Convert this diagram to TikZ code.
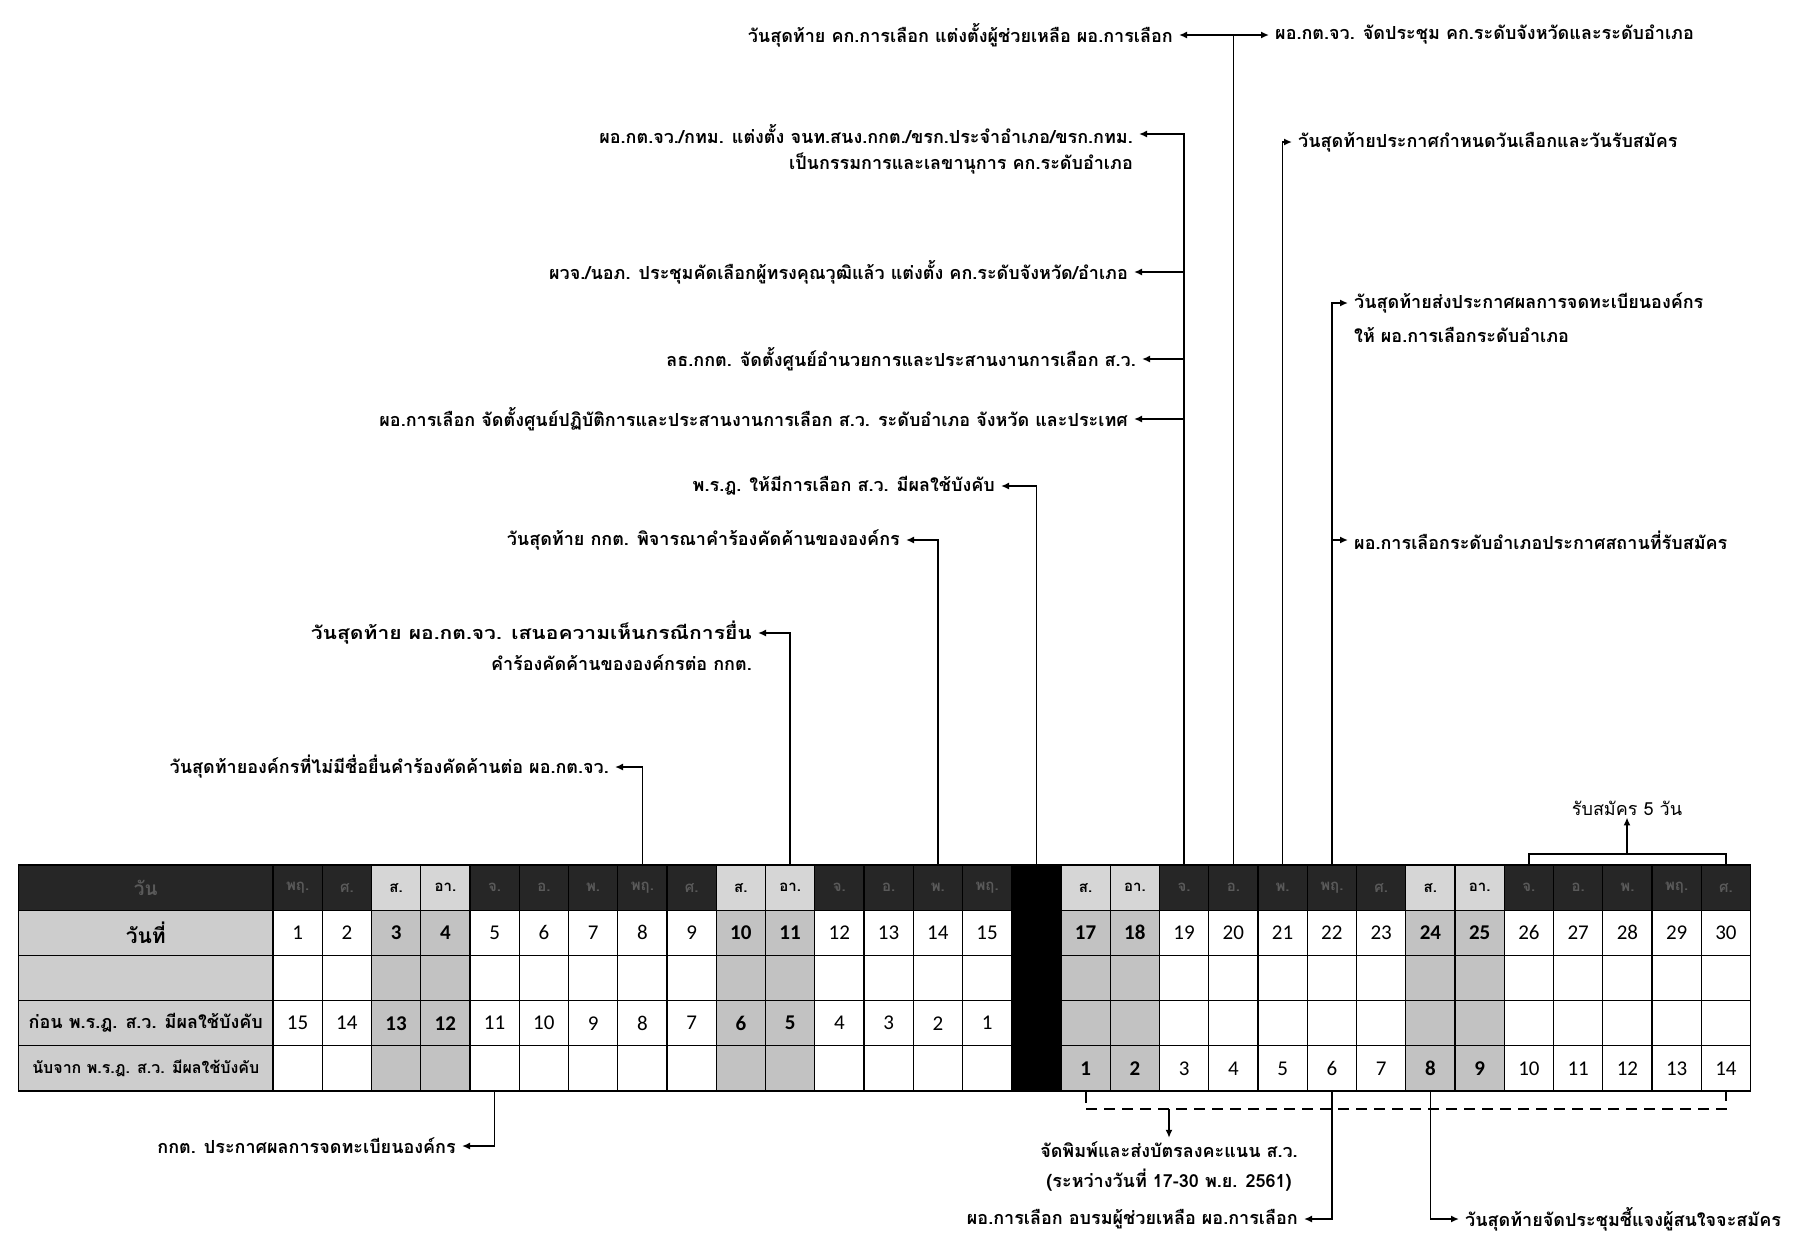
\documentclass[tikz,border=0pt]{standalone}
\usepackage{fontspec}
\setmainfont{Carlito}
\newfontfamily\thai[Script=Thai]{Loma}
\usetikzlibrary{arrows.meta}
\definecolor{hdr}{HTML}{262626}
\definecolor{hdrtxt}{HTML}{5A5A5A}
\definecolor{wkh}{HTML}{D6D6D6}
\definecolor{wkb}{HTML}{C2C2C2}
\definecolor{fc}{HTML}{CDCDCD}
\newcommand\thday[1]{\ifcase#1 พฤ.\or ศ.\or ส.\or อา.\or จ.\or อ.\or พ.\fi}
\begin{document}
\begin{tikzpicture}[x=1pt,y=-1pt,
  cell/.style={draw=black, line width=1.3pt, minimum width=49.25pt, minimum height=45.2pt, inner sep=0pt},
  fcell/.style={cell, minimum width=254.5pt, fill=fc},
  lbl/.style={font=\thai\bfseries\fontsize{18}{21}\selectfont, inner ysep=0pt, inner xsep=6pt},
  lblL/.style={lbl, anchor=east},
  lblR/.style={lbl, anchor=west},
  lblC/.style={lbl, anchor=center},
  arr/.style={-{Latex[length=8pt,width=7pt]}, line width=1.6pt},
  ln/.style={line width=1.6pt},
  num/.style={font=\fontsize{21}{24}\selectfont},
  dayf/.style={font=\thai\bfseries\fontsize{15}{17}\selectfont},
  dsh/.style={line width=1.8pt, dash pattern=on 11pt off 7pt}
]
\fill[white] (0,0) rectangle (1809,1245);
\useasboundingbox (0,0) rectangle (1809,1245);

% first column
\node[cell, minimum width=254.5pt, fill=hdr, text=hdrtxt, font=\thai\bfseries\fontsize{19}{22}\selectfont] (h0) at (145.75,887.6) {วัน};
\node[fcell, font=\thai\bfseries\fontsize{21}{24}\selectfont] (d0) at (145.75,932.8) {วันที่};
\node[fcell] (e0) at (145.75,978) {};
\node[fcell, font=\thai\bfseries\fontsize{18}{20}\selectfont] (p0) at (145.75,1023.2) {ก่อน พ.ร.ฎ. ส.ว. มีผลใช้บังคับ};
\node[fcell, font=\thai\bfseries\fontsize{16}{18}\selectfont] (n0) at (145.75,1068.4) {นับจาก พ.ร.ฎ. ส.ว. มีผลใช้บังคับ};

\foreach \i in {1,...,30}{
  \pgfmathtruncatemacro\k{mod(\i-1,7)}
  \pgfmathsetmacro\cx{273+(\i-0.5)*49.25}
  \pgfmathtruncatemacro\pv{16-\i}
  \pgfmathtruncatemacro\nv{\i-16}
  \def\hfc{hdr}\def\bfc{white}\def\tc{hdrtxt}\def\nw{}
  \ifnum\k=2 \def\hfc{wkh}\def\bfc{wkb}\def\tc{black}\def\nw{\bfseries}\fi
  \ifnum\k=3 \def\hfc{wkh}\def\bfc{wkb}\def\tc{black}\def\nw{\bfseries}\fi
  \ifnum\i=16 \def\hfc{black}\def\bfc{black}\fi
  \node[cell, fill=\hfc, text=\tc, dayf] (h\i) at (\cx,887.6) {\ifnum\i=16 \else\thday{\k}\fi};
  \node[cell, fill=\bfc, num] (d\i) at (\cx,932.8) {\nw\ifnum\i=16 \else\i\fi};
  \node[cell, fill=\bfc] (e\i) at (\cx,978) {};
  \node[cell, fill=\bfc, num] (p\i) at (\cx,1023.2) {\nw\ifnum\i<16 \pv\fi};
  \node[cell, fill=\bfc, num] (n\i) at (\cx,1068.4) {\nw\ifnum\i>16 \nv\fi};
}

% labels above
\node[lblL] (L1) at (1179,35) {วันสุดท้าย คก.การเลือก แต่งตั้งผู้ช่วยเหลือ ผอ.การเลือก};
\node[lblR] (L2) at (1269,35) {ผอ.กต.จว. จัดประชุม คก.ระดับจังหวัดและระดับอำเภอ};
\node[lblL] (L3a) at (1139,134) {ผอ.กต.จว./กทม. แต่งตั้ง จนท.สนง.กกต./ขรก.ประจำอำเภอ/ขรก.กทม.};
\node[lblL] (L3b) at (1139,164) {เป็นกรรมการและเลขานุการ คก.ระดับอำเภอ};
\node[lblR] (L4) at (1292,142) {วันสุดท้ายประกาศกำหนดวันเลือกและวันรับสมัคร};
\node[lblL] (L5) at (1134,272) {ผวจ./นอภ. ประชุมคัดเลือกผู้ทรงคุณวุฒิแล้ว แต่งตั้ง คก.ระดับจังหวัด/อำเภอ};
\node[lblR] (L6a) at (1348,303) {วันสุดท้ายส่งประกาศผลการจดทะเบียนองค์กร};
\node[lblR] (L6b) at (1348,335) {ให้ ผอ.การเลือกระดับอำเภอ};
\node[lblL] (L7) at (1142,359) {ลธ.กกต. จัดตั้งศูนย์อำนวยการและประสานงานการเลือก ส.ว.};
\node[lblL] (L8) at (1134,419) {ผอ.การเลือก จัดตั้งศูนย์ปฏิบัติการและประสานงานการเลือก ส.ว. ระดับอำเภอ จังหวัด และประเทศ};
\node[lblL] (L9) at (1001,486) {พ.ร.ฎ. ให้มีการเลือก ส.ว. มีผลใช้บังคับ};
\node[lblL] (L10) at (906,540) {วันสุดท้าย กกต. พิจารณาคำร้องคัดค้านขององค์กร};
\node[lblR] (L6c) at (1348,540) {ผอ.การเลือกระดับอำเภอประกาศสถานที่รับสมัคร};
\node[lblL] (L11a) at (758,633) {\scalebox{1.17}[1]{วันสุดท้าย ผอ.กต.จว. เสนอความเห็นกรณีการยื่น}};
\node[lblL] (L11b) at (758,663) {คำร้องคัดค้านขององค์กรต่อ กกต.};
\node[lblL] (L12) at (615,767) {วันสุดท้ายองค์กรที่ไม่มีชื่อยื่นคำร้องคัดค้านต่อ ผอ.กต.จว.};
\node[font=\thai\fontsize{18}{20}\selectfont, inner sep=2pt] (R5) at (1627,808) {รับสมัคร 5 วัน};

% labels below
\node[lblL] (B1) at (462,1146) {กกต. ประกาศผลการจดทะเบียนองค์กร};
\node[lblC] (B2a) at (1169,1150) {จัดพิมพ์และส่งบัตรลงคะแนน ส.ว.};
\node[lblC] (B2b) at (1169,1180) {(ระหว่างวันที่ 17-30 พ.ย. 2561)};
\node[lblL] (B3) at (1304,1219) {ผอ.การเลือก อบรมผู้ช่วยเหลือ ผอ.การเลือก};
\node[lblR] (B4) at (1459,1219) {วันสุดท้ายจัดประชุมชี้แจงผู้สนใจจะสมัคร};

% connectors above
\draw[arr] (h20.north) |- (L1.east);
\draw[arr] (h20.north) |- (L2.west);
\draw[arr] (h19.north) |- (L3a.east);
\draw[arr] (h19.north) |- (L5.east);
\draw[arr] (h19.north) |- (L7.east);
\draw[arr] (h19.north) |- (L8.east);
\draw[arr] (h21.north) |- (L4.west);
\draw[arr] (h22.north) |- (L6a.west);
\draw[arr] (h22.north) |- (L6c.west);
\draw[arr] (h16.north) |- (L9.east);
\draw[arr] (h14.north) |- (L10.east);
\draw[arr] (h11.north) |- (L11a.east);
\draw[arr] (h8.north) |- (L12.east);
\coordinate (bk) at (1627,854);
\draw[ln] (h26.north) |- (bk) -| (h30.north);
\draw[arr] (bk) -- (R5.south);

% connectors below
\coordinate (dl) at (0,1109);
\draw[dsh] (n17.south) -- (n17.south |- dl) -- (n30.south |- dl) -- (n30.south);
\draw[arr] (B2a.north |- dl) -- ([yshift=4pt]B2a.north);
\draw[arr] (n5.south) |- (B1.east);
\draw[arr] (n22.south) |- (B3.east);
\draw[arr] (n24.south) |- (B4.west);
\end{tikzpicture}
\end{document}
